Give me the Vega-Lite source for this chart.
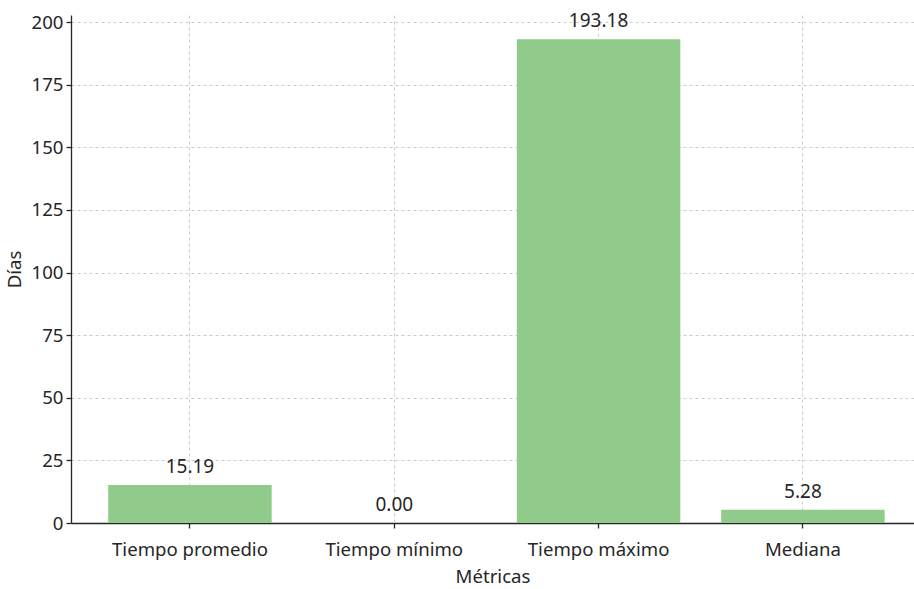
{
  "$schema": "https://vega.github.io/schema/vega-lite/v6.json",
  "autosize": "none",
  "width": 843,
  "height": 508,
  "padding": {"left": 71, "top": 15, "right": 0, "bottom": 66},
  "background": "white",
  "config": {
    "view": {"stroke": null},
    "font": "Noto Sans",
    "axis": {
      "labelFont": "Noto Sans",
      "titleFont": "Noto Sans",
      "labelFontSize": 18.6,
      "titleFontSize": 18.6,
      "labelColor": "#262626",
      "titleColor": "#262626",
      "titleFontWeight": "normal",
      "domainColor": "#262626",
      "domainWidth": 1.3,
      "tickColor": "#262626",
      "tickWidth": 1.3,
      "tickSize": 5,
      "gridColor": "#cccccc",
      "gridDash": [3, 3],
      "gridWidth": 1
    }
  },
  "data": {
    "values": [
      {"metrica": "Tiempo promedio", "dias": 15.19, "etiqueta": "15.19"},
      {"metrica": "Tiempo mínimo", "dias": 0.0, "etiqueta": "0.00"},
      {"metrica": "Tiempo máximo", "dias": 193.18, "etiqueta": "193.18"},
      {"metrica": "Mediana", "dias": 5.28, "etiqueta": "5.28"}
    ]
  },
  "encoding": {
    "x": {
      "field": "metrica",
      "type": "nominal",
      "sort": null,
      "title": "Métricas",
      "scale": {"paddingInner": 0.2, "paddingOuter": 0.163, "align": 0.559},
      "axis": {"labelAngle": 0, "bandPosition": 0.5, "grid": true, "labelPadding": 12, "titlePadding": 9}
    },
    "y": {
      "field": "dias",
      "type": "quantitative",
      "title": "Días",
      "scale": {"domain": [0, 202.84], "nice": false},
      "axis": {"values": [0, 25, 50, 75, 100, 125, 150, 175, 200], "labelPadding": 3, "titlePadding": 7}
    }
  },
  "layer": [
    {"mark": {"type": "bar", "color": "#90cb8b"}},
    {
      "mark": {"type": "text", "baseline": "alphabetic", "dy": -12, "fontSize": 19, "color": "#262626", "font": "Noto Sans"},
      "encoding": {"text": {"field": "etiqueta"}}
    }
  ]
}
